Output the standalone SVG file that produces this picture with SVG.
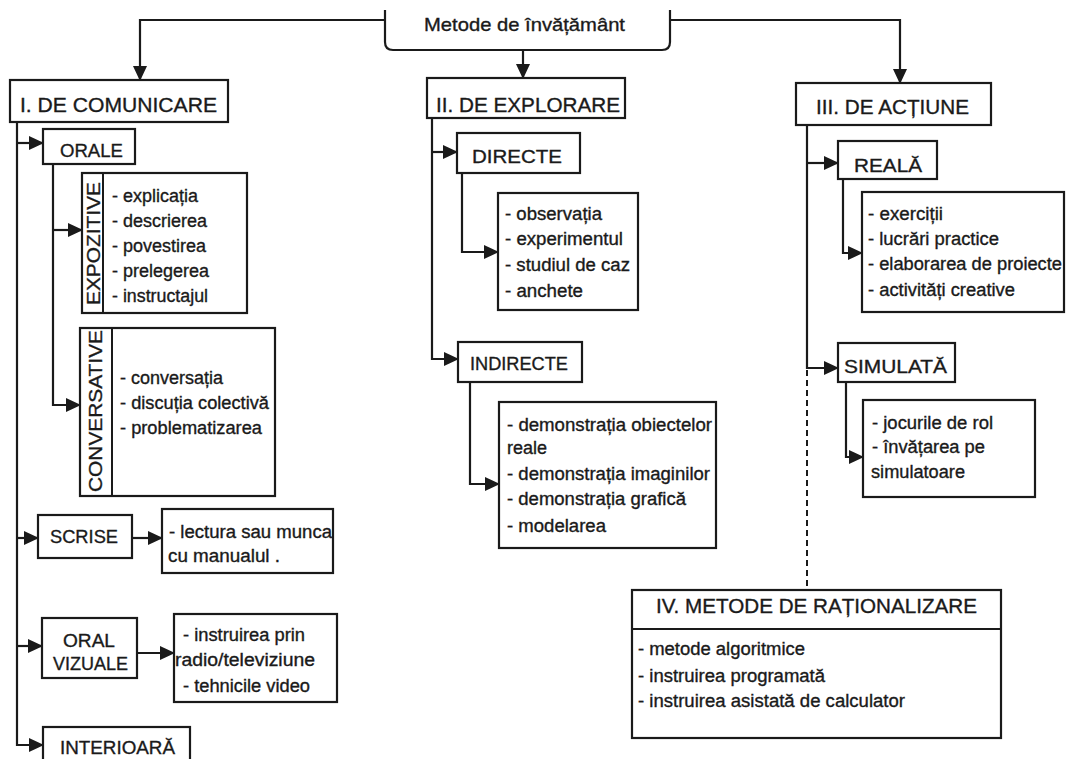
<svg xmlns="http://www.w3.org/2000/svg" width="1068" height="759" viewBox="0 0 1068 759">
  <defs>
    <marker id="arrow" markerUnits="userSpaceOnUse" markerWidth="15" markerHeight="14" refX="14" refY="7" orient="auto">
      <path d="M0,0 L15,7 L0,14 z" fill="#1a1a1a"/>
    </marker>
    <style>
      .box { fill: #ffffff; stroke: #1a1a1a; stroke-width: 2.2; }
      .div { stroke: #1a1a1a; stroke-width: 2; fill: none; }
      .con { fill: none; stroke: #1a1a1a; stroke-width: 2.2; }
      .arr { marker-end: url(#arrow); }
      .dash { fill: none; stroke: #1a1a1a; stroke-width: 2; stroke-dasharray: 6 4; }
      text { font-family: "Liberation Sans", Arial, sans-serif; fill: #1a1a1a; stroke: #1a1a1a; stroke-width: 0.35; }
      .h1 { font-size: 21px; }
      .h2 { font-size: 19px; }
      .it { font-size: 18px; }
    </style>
  </defs>

  <rect x="0" y="0" width="1068" height="759" fill="#ffffff"/>

  <!-- connectors -->
  <g id="connectors">
    <path class="con arr" d="M385,20 H140 V80"/>
    <path class="con arr" d="M670,20 H900 V83"/>
    <path class="con arr" d="M523,50 V78"/>

    <path class="con arr" d="M17,122 V745 H43"/>
    <path class="con arr" d="M17,143 H43"/>
    <path class="con arr" d="M17,538 H38"/>
    <path class="con arr" d="M17,646 H42"/>
    <path class="con arr" d="M53,164 V405 H80"/>
    <path class="con arr" d="M53,230 H82"/>
    <path class="con arr" d="M132,538 H162"/>
    <path class="con arr" d="M137,653 H174"/>

    <path class="con arr" d="M432,118 V359 H458"/>
    <path class="con arr" d="M432,152 H457"/>
    <path class="con arr" d="M462,173 V252 H498"/>
    <path class="con arr" d="M470,382 V484 H499"/>

    <path class="con arr" d="M807,125 V368 H838"/>
    <path class="con arr" d="M807,163 H838"/>
    <path class="con arr" d="M843,179 V253 H862"/>
    <path class="con arr" d="M846,382 V457 H863"/>
    <path class="dash" d="M807,370 V590"/>
  </g>

  <!-- root -->
  <g id="root">
    <path class="box" d="M385,10 V42 Q385,50 393,50 H662 Q670,50 670,42 V10"/>
    <text class="h2" x="424" y="31" textLength="201" lengthAdjust="spacingAndGlyphs">Metode de învățământ</text>
  </g>

  <!-- I. communication branch -->
  <g id="comunicare">
    <rect class="box" x="10" y="80" width="218" height="42"/>
    <text class="h1" x="20" y="112" textLength="197" lengthAdjust="spacingAndGlyphs">I. DE COMUNICARE</text>
  </g>
  <g id="orale">
    <rect class="box" x="43" y="129" width="92" height="35"/>
    <text class="h2" x="60" y="157" textLength="63" lengthAdjust="spacingAndGlyphs">ORALE</text>
  </g>
  <g id="expozitive">
    <rect class="box" x="82" y="173" width="165" height="140"/>
    <line class="div" x1="103" y1="173" x2="103" y2="313"/>
    <text class="h2" transform="translate(100,305) rotate(-90)" x="0" y="0" textLength="123" lengthAdjust="spacingAndGlyphs">EXPOZITIVE</text>
    <text class="it" x="112" y="202" textLength="86" lengthAdjust="spacingAndGlyphs">- explicația</text>
    <text class="it" x="112" y="227" textLength="95" lengthAdjust="spacingAndGlyphs">- descrierea</text>
    <text class="it" x="112" y="252" textLength="94" lengthAdjust="spacingAndGlyphs">- povestirea</text>
    <text class="it" x="112" y="277" textLength="97" lengthAdjust="spacingAndGlyphs">- prelegerea</text>
    <text class="it" x="112" y="302" textLength="96" lengthAdjust="spacingAndGlyphs">- instructajul</text>
  </g>
  <g id="conversative">
    <rect class="box" x="80" y="328" width="195" height="168"/>
    <line class="div" x1="112" y1="328" x2="112" y2="496"/>
    <text class="h2" transform="translate(102,492) rotate(-90)" x="0" y="0" textLength="162" lengthAdjust="spacingAndGlyphs">CONVERSATIVE</text>
    <text class="it" x="120" y="384" textLength="103" lengthAdjust="spacingAndGlyphs">- conversația</text>
    <text class="it" x="120" y="409" textLength="149" lengthAdjust="spacingAndGlyphs">- discuția colectivă</text>
    <text class="it" x="120" y="434" textLength="142" lengthAdjust="spacingAndGlyphs">- problematizarea</text>
  </g>
  <g id="scrise">
    <rect class="box" x="38" y="515" width="94" height="43"/>
    <text class="h2" x="50" y="543" textLength="68" lengthAdjust="spacingAndGlyphs">SCRISE</text>
  </g>
  <g id="scrise-list">
    <rect class="box" x="162" y="509" width="171" height="64"/>
    <text class="it" x="169" y="538" textLength="163" lengthAdjust="spacingAndGlyphs">- lectura sau munca</text>
    <text class="it" x="168" y="562" textLength="112" lengthAdjust="spacingAndGlyphs">cu manualul .</text>
  </g>
  <g id="oral-vizuale">
    <rect class="box" x="42" y="618" width="95" height="60"/>
    <text class="h2" x="63" y="647" textLength="52" lengthAdjust="spacingAndGlyphs">ORAL</text>
    <text class="h2" x="53" y="670" textLength="75" lengthAdjust="spacingAndGlyphs">VIZUALE</text>
  </g>
  <g id="oral-vizuale-list">
    <rect class="box" x="174" y="614" width="163" height="88"/>
    <text class="it" x="183" y="641" textLength="122" lengthAdjust="spacingAndGlyphs">- instruirea prin</text>
    <text class="it" x="175" y="666" textLength="140" lengthAdjust="spacingAndGlyphs">radio/televiziune</text>
    <text class="it" x="183" y="692" textLength="127" lengthAdjust="spacingAndGlyphs">- tehnicile video</text>
  </g>
  <g id="interioara">
    <rect class="box" x="43" y="727" width="147" height="45"/>
    <text class="h2" x="60" y="754" textLength="115" lengthAdjust="spacingAndGlyphs">INTERIOARĂ</text>
  </g>

  <!-- II. exploration branch -->
  <g id="explorare">
    <rect class="box" x="427" y="78" width="198" height="40"/>
    <text class="h1" x="436" y="112" textLength="184" lengthAdjust="spacingAndGlyphs">II. DE EXPLORARE</text>
  </g>
  <g id="directe">
    <rect class="box" x="457" y="133" width="123" height="40"/>
    <text class="h2" x="472" y="163" textLength="90" lengthAdjust="spacingAndGlyphs">DIRECTE</text>
  </g>
  <g id="directe-list">
    <rect class="box" x="498" y="193" width="140" height="117"/>
    <text class="it" x="505" y="220" textLength="97" lengthAdjust="spacingAndGlyphs">- observația</text>
    <text class="it" x="505" y="245" textLength="118" lengthAdjust="spacingAndGlyphs">- experimentul</text>
    <text class="it" x="505" y="271" textLength="125" lengthAdjust="spacingAndGlyphs">- studiul de caz</text>
    <text class="it" x="505" y="297" textLength="78" lengthAdjust="spacingAndGlyphs">- anchete</text>
  </g>
  <g id="indirecte">
    <rect class="box" x="458" y="342" width="124" height="40"/>
    <text class="h2" x="470" y="370" textLength="98" lengthAdjust="spacingAndGlyphs">INDIRECTE</text>
  </g>
  <g id="indirecte-list">
    <rect class="box" x="499" y="402" width="217" height="146"/>
    <text class="it" x="507" y="431" textLength="205" lengthAdjust="spacingAndGlyphs">- demonstrația obiectelor</text>
    <text class="it" x="507" y="454" textLength="40" lengthAdjust="spacingAndGlyphs">reale</text>
    <text class="it" x="507" y="480" textLength="203" lengthAdjust="spacingAndGlyphs">- demonstrația imaginilor</text>
    <text class="it" x="507" y="505" textLength="179" lengthAdjust="spacingAndGlyphs">- demonstrația grafică</text>
    <text class="it" x="507" y="532" textLength="99" lengthAdjust="spacingAndGlyphs">- modelarea</text>
  </g>

  <!-- III. action branch -->
  <g id="actiune">
    <rect class="box" x="796" y="83" width="195" height="42"/>
    <text class="h1" x="816" y="114" textLength="153" lengthAdjust="spacingAndGlyphs">III. DE ACȚIUNE</text>
  </g>
  <g id="reala">
    <rect class="box" x="838" y="141" width="99" height="38"/>
    <text class="h2" x="854" y="172" textLength="68" lengthAdjust="spacingAndGlyphs">REALĂ</text>
  </g>
  <g id="reala-list">
    <rect class="box" x="862" y="192" width="202" height="120"/>
    <text class="it" x="868" y="220" textLength="75" lengthAdjust="spacingAndGlyphs">- exerciții</text>
    <text class="it" x="868" y="245" textLength="131" lengthAdjust="spacingAndGlyphs">- lucrări practice</text>
    <text class="it" x="868" y="270" textLength="194" lengthAdjust="spacingAndGlyphs">- elaborarea de proiecte</text>
    <text class="it" x="868" y="296" textLength="147" lengthAdjust="spacingAndGlyphs">- activități creative</text>
  </g>
  <g id="simulata">
    <rect class="box" x="838" y="343" width="117" height="39"/>
    <text class="h2" x="844" y="373" textLength="103" lengthAdjust="spacingAndGlyphs">SIMULATĂ</text>
  </g>
  <g id="simulata-list">
    <rect class="box" x="863" y="400" width="172" height="97"/>
    <text class="it" x="872" y="429" textLength="121" lengthAdjust="spacingAndGlyphs">- jocurile de rol</text>
    <text class="it" x="872" y="453" textLength="113" lengthAdjust="spacingAndGlyphs">- învățarea pe</text>
    <text class="it" x="871" y="478" textLength="94" lengthAdjust="spacingAndGlyphs">simulatoare</text>
  </g>

  <!-- IV. rationalisation methods -->
  <g id="rationalizare">
    <rect class="box" x="632" y="590" width="369" height="148"/>
    <line class="div" x1="632" y1="629" x2="1001" y2="629"/>
    <text class="h1" x="656" y="613" textLength="321" lengthAdjust="spacingAndGlyphs">IV. METODE DE RAȚIONALIZARE</text>
    <text class="it" x="638" y="655" textLength="167" lengthAdjust="spacingAndGlyphs">- metode algoritmice</text>
    <text class="it" x="638" y="682" textLength="187" lengthAdjust="spacingAndGlyphs">- instruirea programată</text>
    <text class="it" x="638" y="707" textLength="267" lengthAdjust="spacingAndGlyphs">- instruirea asistată de calculator</text>
  </g>
</svg>
